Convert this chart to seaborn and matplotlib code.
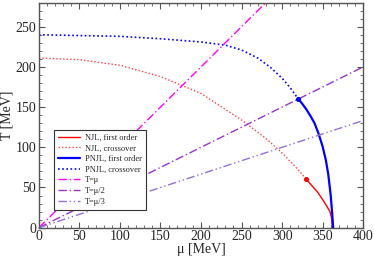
import numpy as np
import pandas as pd
import matplotlib
matplotlib.use("Agg")
import matplotlib.pyplot as plt
import seaborn as sns
from matplotlib.ticker import MultipleLocator

sns.set_style("ticks")
plt.rcParams['font.family'] = ['Liberation Serif', 'DejaVu Serif']

# NJL
njl_cross_mu = [0, 50, 100, 150, 200, 250, 280, 300, 320, 330]
njl_cross_T = [211, 209, 202, 188, 167, 134, 111, 93, 72, 60]
njl_first_mu = [330, 337, 344, 350, 355, 359, 361, 362]
njl_first_T = [60, 52, 44, 35, 27, 20, 12, 0]
# PNJL
pnjl_cross_mu = [0, 50, 100, 150, 200, 230, 250, 270, 285, 300, 310, 320]
pnjl_cross_T = [240, 239, 238, 235, 231, 227, 221, 211, 200, 186, 174, 160]
pnjl_first_mu = [320, 325, 330, 335, 340, 345, 350, 354, 357, 360, 362, 363]
pnjl_first_T = [160, 154, 147, 139, 130, 117, 101, 84, 66, 40, 15, 0]
# reference lines
ref_mu = [0, 400]
lines_T = {"T=μ": [0, 400], "T=μ/2": [0, 200], "T=μ/3": [0, 133.3]}
crit_mu = [330, 320]
crit_T = [60, 160]

fig = plt.figure(figsize=(3.74, 2.57), dpi=100)
ax = fig.add_axes([0.104, 0.114, 0.867, 0.876])

sns.lineplot(x=njl_first_mu, y=njl_first_T, ax=ax, color='#ff0000', lw=1.0, label='NJL, first order', sort=False)
sns.lineplot(x=njl_cross_mu, y=njl_cross_T, ax=ax, color='#ff4040', lw=1.0, ls=(0, (1, 1.5)), label='NJL, crossover', sort=False)
sns.lineplot(x=pnjl_first_mu, y=pnjl_first_T, ax=ax, color='#0000ff', lw=1.6, label='PNJL, first order', sort=False)
sns.lineplot(x=pnjl_cross_mu, y=pnjl_cross_T, ax=ax, color='#0000ff', lw=1.2, ls=(0, (1, 1.5)), label='PNJL, crossover', sort=False)
sns.lineplot(x=ref_mu, y=lines_T["T=μ"], ax=ax, color='#ff00ff', lw=1.0, ls=(0, (6, 2, 1, 2)), label='T=μ')
sns.lineplot(x=ref_mu, y=lines_T["T=μ/2"], ax=ax, color='#9932cc', lw=1.0, ls=(0, (6, 2, 1, 2)), label='T=μ/2')
sns.lineplot(x=ref_mu, y=lines_T["T=μ/3"], ax=ax, color='#9370db', lw=1.0, ls=(0, (6, 2, 1, 2, 1, 2)), label='T=μ/3')
ax.scatter([crit_mu[0]], [crit_T[0]], color='#ff0000', s=7, zorder=5)
ax.scatter([crit_mu[1]], [crit_T[1]], color='#0000ff', s=7, zorder=5)

ax.set_xlim(0, 400)
ax.set_ylim(0, 280)
ax.xaxis.set_major_locator(MultipleLocator(50))
ax.xaxis.set_minor_locator(MultipleLocator(10))
ax.yaxis.set_major_locator(MultipleLocator(50))
ax.yaxis.set_minor_locator(MultipleLocator(10))
ax.tick_params(which='both', direction='in', top=True, right=True, labelsize=10, color='#555555', pad=2)
ax.tick_params(which='major', length=4)
ax.tick_params(which='minor', length=2)
for s in ax.spines.values():
    s.set_color('#555555')
    s.set_linewidth(1.0)
ax.set_xlabel('μ [MeV]', fontsize=10, labelpad=0)
ax.set_ylabel('T [MeV]', fontsize=10, labelpad=1)

leg = ax.legend(loc='lower left', bbox_to_anchor=(0.046, 0.079), bbox_transform=ax.transAxes,
                borderaxespad=0, fontsize=6, frameon=True,
                fancybox=False, edgecolor='#333333', framealpha=1, handlelength=2.7,
                labelspacing=0.32, borderpad=0.5, handletextpad=0.5)
leg.get_frame().set_linewidth(0.8)

fig.savefig('out.png', dpi=100)
